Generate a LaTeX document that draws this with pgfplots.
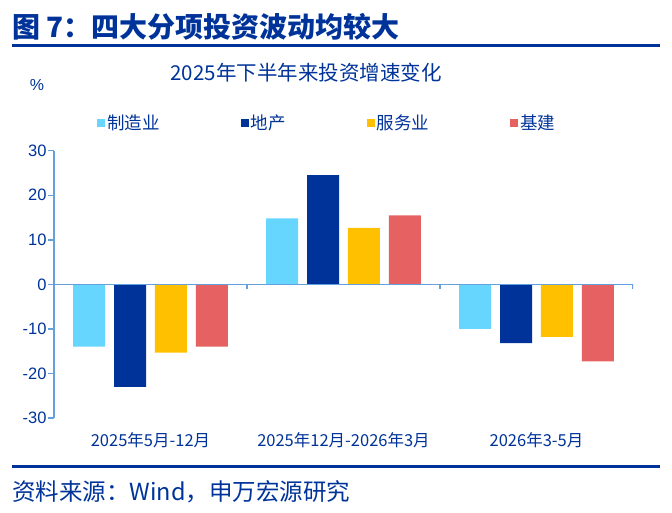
\documentclass[border=0pt]{standalone}
\usepackage{pgfplots}
\pgfplotsset{compat=1.18}
\usepackage{pgfplotstable}
\usepackage{fontspec}
\setmainfont{Liberation Sans}
\newfontfamily\cjk{Noto Sans CJK SC}

\definecolor{navy}{RGB}{0,51,153}
\definecolor{axisblue}{RGB}{100,160,220}
\definecolor{mfg}{RGB}{102,214,255}
\definecolor{prop}{RGB}{0,51,153}
\definecolor{serv}{RGB}{255,192,0}
\definecolor{infra}{RGB}{230,98,98}

% investment growth by sector, %
\pgfplotstableread{
grp mfg prop serv infra
0 -14.0 -23.0 -15.3 -14.0
1 14.8 24.5 12.7 15.5
2 -10.0 -13.2 -11.8 -17.3
}\growth

\begin{document}
\begin{tikzpicture}
\begin{scope}[x=1bp,y=1bp]
\path[use as bounding box] (0,0) rectangle (672,-513);

% header and footer
\node[anchor=west, text=navy, inner sep=0] at (12,-27)
  {\fontsize{28bp}{31bp}\selectfont\cjk\bfseries 图 7：四大分项投资波动均较大};
\draw[navy, line width=3bp] (12,-46) -- (660,-46);
\draw[navy, line width=3bp] (12,-466) -- (660,-466);
\node[anchor=west, text=navy, inner sep=0] at (12,-492)
  {\fontsize{23.5bp}{26bp}\selectfont\cjk 资料来源：Wind，申万宏源研究};

% chart title and unit
\node[text=navy, inner sep=0] at (306,-73)
  {\fontsize{20.5bp}{23bp}\selectfont\cjk 2025年下半年来投资增速变化};
\node[text=navy, inner sep=0] at (37,-85)
  {\fontsize{16bp}{18bp}\selectfont \%};
\end{scope}

\begin{axis}[
  at={(54bp,-418bp)}, anchor=south west,
  scale only axis, width=579bp, height=267.3bp,
  xmin=-0.5, xmax=2.5, ymin=-30, ymax=30,
  axis y line*=left, axis x line*=bottom,
  x axis line style={draw=none},
  y axis line style={axisblue, line width=1.5bp},
  ytick={-30,-20,...,30},
  ytick style={axisblue, line width=1.5bp},
  tick align=outside, major tick length=6bp,
  /pgf/number format/assume math mode=true,
  yticklabel style={text=navy, font=\fontsize{16.5bp}{18bp}\selectfont, xshift=2bp},
  xtick={0,1,2},
  xticklabels={{\cjk 2025年5月-12月},{\cjk 2025年12月-2026年3月},{\cjk 2026年3-5月}},
  xtick style={draw=none},
  xticklabel style={text=navy, font=\fontsize{16.5bp}{18bp}\selectfont, yshift=-5bp},
  ybar, bar width=0.166,
  legend columns=4,
  legend style={at={(0.0743,1.1036)}, anchor=west, draw=none, fill=none,
    inner sep=0pt, text=navy, font=\fontsize{17.5bp}{20bp}\selectfont\cjk,
    /tikz/every even column/.append style={column sep=79bp}},
  legend image code/.code={\fill[#1] (0bp,-4bp) rectangle (8bp,4bp);},
]
\addplot[fill=mfg, draw=none, bar shift=-0.318] table[x=grp, y=mfg] {\growth};
\addplot[fill=prop, draw=none, bar shift=-0.106] table[x=grp, y=prop] {\growth};
\addplot[fill=serv, draw=none, bar shift=0.106] table[x=grp, y=serv] {\growth};
\addplot[fill=infra, draw=none, bar shift=0.318] table[x=grp, y=infra] {\growth};
\legend{制造业, 地产, 服务业, 基建}

% zero line with category separators
\draw[axisblue, line width=1.5bp] (axis cs:-0.5,0) -- (axis cs:2.5,0);
\draw[axisblue, line width=1.5bp] (axis cs:0.5,0) -- ([yshift=-5bp]axis cs:0.5,0);
\draw[axisblue, line width=1.5bp] (axis cs:1.5,0) -- ([yshift=-5bp]axis cs:1.5,0);
\draw[axisblue, line width=1.5bp] (axis cs:2.5,0) -- ([yshift=-5bp]axis cs:2.5,0);
\end{axis}
\end{tikzpicture}
\end{document}
